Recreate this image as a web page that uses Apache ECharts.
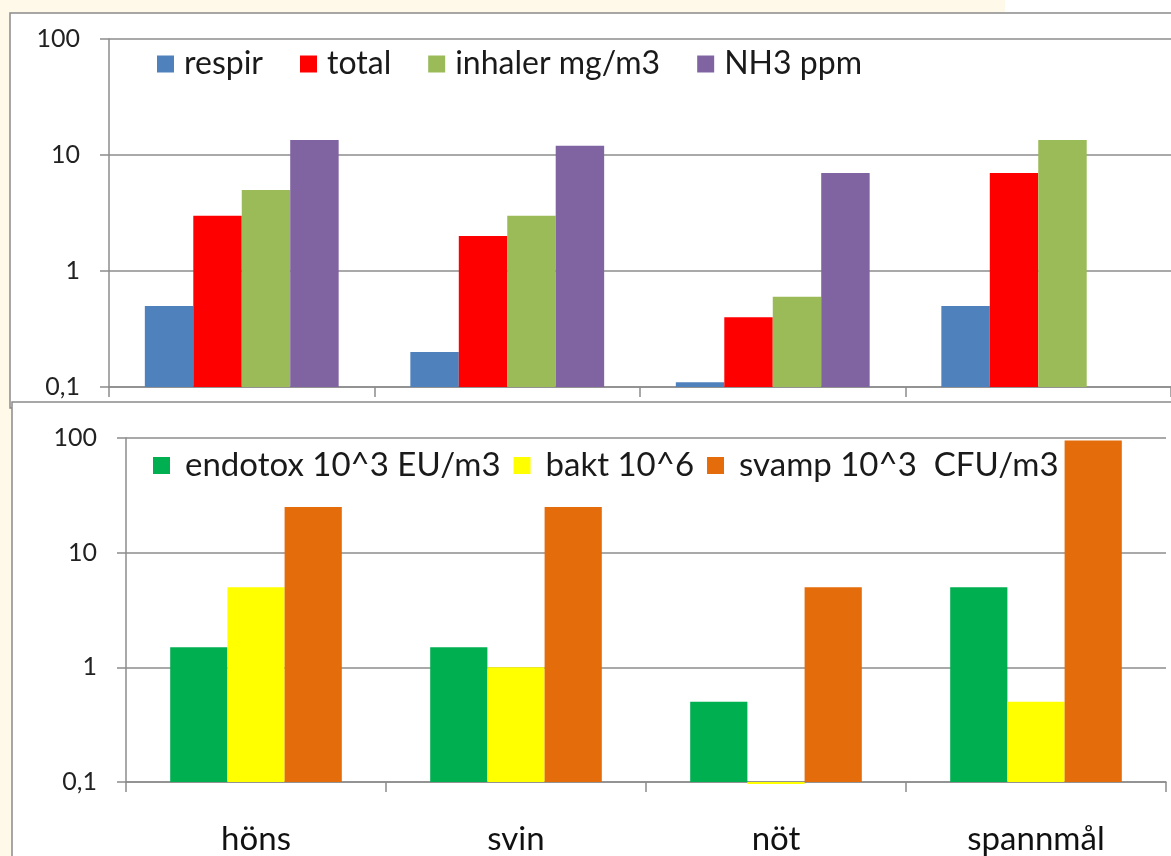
<!DOCTYPE html>
<html>
<head>
<meta charset="utf-8">
<style>
html,body{margin:0;padding:0;background:#FEF9E8;}
#c{width:1171px;height:856px;}
</style>
<script src="https://cdn.jsdelivr.net/npm/echarts@6/dist/echarts.min.js"></script>
</head>
<body>
<div id="c"></div>
<script>
var categories = ['höns', 'svin', 'nöt', 'spannmål'];
var topSeriesNames = ['respir', 'total', 'inhaler mg/m3', 'NH3 ppm'];
var respir = [0.5, 0.2, 0.11, 0.5];
var total = [3, 2, 0.4, 7];
var inhaler = [5, 3, 0.6, 13.5];
var nh3 = [13.5, 12, 7, null];
var bottomSeriesNames = ['endotox 10^3 EU/m3', 'bakt 10^6', 'svamp 10^3  CFU/m3'];
var endotox = [1.5, 1.5, 0.5, 5];
var bakt = [5, 1, 0.096, 0.5];
var svamp = [25, 25, 5, 95];
var yTicks = [0.1, 1, 10, 100];
var yTickLabels = ['0,1', '1', '10', '100'];

var FONT = 'Lato';
var gridColor = '#8C8C8C';

// Log-10 scale measured in decades above the lowest tick, so bars rise from the axis floor.
var LOG_FLOOR = Math.log10(yTicks[0]);
function toDecades(v) { return v == null ? null : Math.log10(v) - LOG_FLOOR; }
function yLabel(d) {
  var idx = Math.round(d);
  return yTickLabels[idx] !== undefined ? yTickLabels[idx] : '';
}

function yAxisCfg(gridIndex) {
  return {
    type: 'value', min: 0, max: yTicks.length - 1, interval: 1,
    gridIndex: gridIndex,
    axisLine: {show: true, lineStyle: {color: gridColor, width: 1.5}},
    axisTick: {show: true, length: 9, lineStyle: {color: gridColor, width: 1.5}},
    splitLine: {show: true, lineStyle: {color: gridColor, width: 1.5}},
    axisLabel: {formatter: yLabel, margin: 29, fontFamily: FONT, fontSize: 25, color: '#222'}
  };
}

function xAxisCfg(gridIndex, showLabels) {
  return {
    type: 'category', data: categories, gridIndex: gridIndex,
    axisLine: {show: true, lineStyle: {color: gridColor, width: 1.5}},
    axisTick: {show: true, length: 10, alignWithLabel: false, lineStyle: {color: gridColor, width: 1.5}},
    axisLabel: {show: showLabels, margin: 41, fontFamily: FONT, fontSize: 33, color: '#111'}
  };
}

var topColors = ['#4F81BD', '#FF0000', '#9BBB59', '#8064A2'];
var topData = [respir, total, inhaler, nh3];
var bottomColors = ['#00B050', '#FFFF00', '#E46C0A'];
var bottomData = [endotox, bakt, svamp];

var series = [];
topSeriesNames.forEach(function (n, i) {
  series.push({
    name: n, type: 'bar', xAxisIndex: 0, yAxisIndex: 0, data: topData[i].map(toDecades),
    barGap: '0%', barCategoryGap: '27%', itemStyle: {color: topColors[i]}
  });
});
bottomSeriesNames.forEach(function (n, i) {
  series.push({
    name: n, type: 'bar', xAxisIndex: 1, yAxisIndex: 1, data: bottomData[i].map(toDecades), clip: false,
    barGap: '0%', barCategoryGap: '34%', itemStyle: {color: bottomColors[i]}
  });
});

var chart = echarts.init(document.getElementById('c'), null, {renderer: 'canvas'});
chart.setOption({
  backgroundColor: '#FEF9E8',
  animation: false,
  graphic: [
    {type: 'rect', z: -10, shape: {x: 1005, y: 0, width: 170, height: 14}, style: {fill: '#FFFFFF'}},
    {type: 'rect', z: -9, shape: {x: 10, y: 13, width: 1170, height: 395}, style: {fill: '#FFFFFF', stroke: '#8A8A8A', lineWidth: 1.5}},
    {type: 'rect', z: -8, shape: {x: 12, y: 402, width: 1170, height: 470}, style: {fill: '#FFFFFF', stroke: '#8A8A8A', lineWidth: 1.5}}
  ],
  legend: [
    {
      data: topSeriesNames, left: 157, top: 48, padding: 0, itemWidth: 17, itemHeight: 17, itemGap: 37,
      icon: 'rect', selectedMode: false,
      textStyle: {fontFamily: FONT, fontSize: 32, color: '#1A1A1A', padding: [0, 0, 0, 5]}
    },
    {
      data: bottomSeriesNames, left: 153, top: 449, padding: 0, itemWidth: 17, itemHeight: 17, itemGap: 13,
      icon: 'rect', selectedMode: false,
      textStyle: {fontFamily: FONT, fontSize: 33, color: '#1A1A1A', padding: [0, 0, 0, 10]}
    }
  ],
  grid: [
    {left: 109, right: 0, top: 39, height: 348},
    {left: 126, right: 5, top: 438, height: 346}
  ],
  xAxis: [xAxisCfg(0, false), xAxisCfg(1, true)],
  yAxis: [yAxisCfg(0), yAxisCfg(1)],
  series: series
});
</script>
</body>
</html>
